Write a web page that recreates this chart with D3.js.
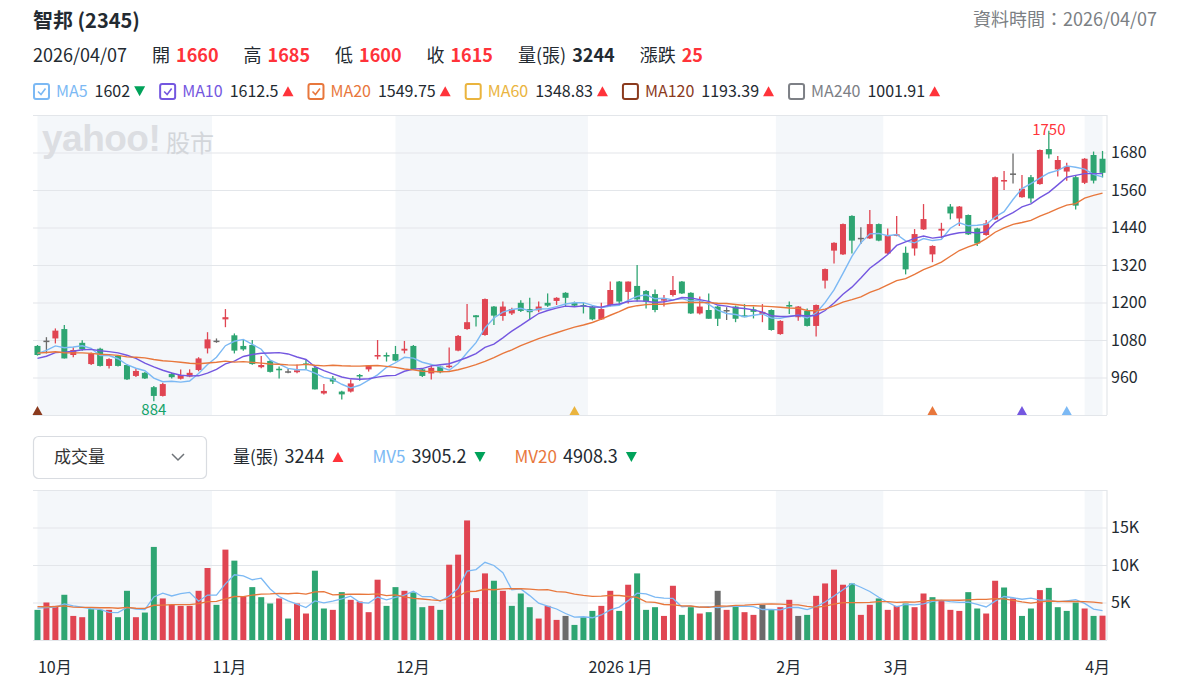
<!DOCTYPE html>
<html lang="zh-Hant">
<head>
<meta charset="utf-8">
<title>智邦 (2345)</title>
<script src="https://cdn.jsdelivr.net/npm/d3@7"></script>
<style>
  body { margin: 0; background: #fff; }
  svg { display: block; font-family: "Noto Sans CJK TC", "Noto Sans", sans-serif; }
</style>
</head>
<body>
<svg id="chart" width="1181" height="692"></svg>
<script>
// daily bars 2025/10/01 .. 2026/04/07
const opens = [1061,1078,1085,1115,1032,1071,1003,1052,997,1029,
  1000,965,975,929,901,971,956,963,984,1053,
  1078,1146,1095,1061,1064,993,1013,988,980,977,
  1005,991,909,957,915,915,968,986,1027,1032,
  1035,1046,1061,986,973,995,993,1046,1115,1159,
  1096,1187,1157,1165,1199,1179,1175,1199,1205,1231,
  1199,1192,1187,1146,1192,1267,1234,1253,1237,1227,
  1206,1224,1267,1231,1165,1176,1187,1176,1187,1159,
  1178,1163,1176,1099,1192,1153,1173,1125,1270,1366,
  1354,1477,1407,1405,1451,1357,1414,1359,1373,1434,
  1354,1430,1507,1469,1480,1437,1416,1466,1587,1613,
  1537,1601,1579,1691,1626,1619,1601,1583,1672,1660];
const highs = [1064,1089,1117,1128,1057,1079,1040,1055,1022,1032,
  1003,989,978,933,943,975,986,986,1025,1105,
  1085,1179,1101,1082,1080,1029,1016,995,988,1002,
  1018,994,939,965,918,954,971,1000,1080,1040,
  1061,1077,1064,989,999,998,1056,1096,1195,1160,
  1213,1189,1203,1183,1207,1215,1203,1229,1217,1233,
  1203,1199,1190,1199,1267,1269,1267,1320,1240,1242,
  1224,1285,1269,1233,1219,1229,1190,1185,1190,1195,
  1187,1195,1178,1143,1203,1189,1181,1194,1309,1393,
  1453,1479,1441,1496,1453,1437,1477,1379,1435,1515,
  1383,1455,1515,1509,1482,1439,1464,1603,1621,1677,
  1608,1608,1690,1750,1669,1647,1608,1662,1683,1685];
const lows = [1030,1037,1069,1021,1025,1046,1000,995,989,995,
  952,962,955,884,899,957,954,961,980,1037,
  1071,1121,1037,1046,1001,990,976,957,974,974,
  986,922,906,939,890,912,950,979,1018,1011,
  1012,1037,984,962,954,974,990,1044,1113,1123,
  1094,1128,1142,1160,1170,1146,1169,1186,1192,1187,
  1186,1165,1143,1144,1187,1192,1197,1203,1181,1169,
  1187,1219,1227,1163,1162,1148,1125,1144,1137,1153,
  1149,1137,1110,1097,1163,1142,1123,1091,1245,1325,
  1352,1357,1387,1403,1396,1355,1412,1290,1350,1432,
  1329,1405,1466,1445,1416,1381,1414,1464,1560,1581,
  1535,1519,1577,1661,1603,1590,1498,1579,1581,1600];
const closes = [1032,1078,1110,1021,1048,1050,1037,997,1019,997,
  954,981,957,901,939,961,968,975,1021,1082,
  1078,1153,1046,1050,1003,1000,978,984,980,983,
  1000,922,917,947,906,941,965,998,1032,1027,
  1014,1052,986,965,991,977,998,1093,1137,1153,
  1211,1158,1187,1179,1173,1169,1187,1190,1215,1215,
  1190,1187,1146,1179,1240,1203,1267,1210,1203,1176,
  1213,1240,1229,1165,1187,1148,1148,1176,1148,1153,
  1170,1170,1112,1141,1187,1187,1125,1192,1307,1391,
  1451,1398,1407,1451,1398,1414,1418,1306,1419,1467,
  1381,1436,1485,1507,1418,1389,1453,1601,1592,1613,
  1564,1533,1688,1674,1656,1635,1510,1660,1590,1615];
const volumes = [4018,5000,4550,6030,3210,3040,4110,4020,4020,3040,
  6560,3040,3660,12410,5540,4690,4550,4550,6560,9600,
  4690,12050,10580,5800,7050,5710,4870,5540,2860,4870,
  3530,9240,4200,4020,6380,5360,5130,3710,8040,4550,
  7050,6560,6340,4375,4550,4020,10040,11380,15940,5580,
  8880,7900,6560,4550,6200,4375,2860,4550,2680,3210,
  2010,3040,3880,4550,6560,3880,7370,8880,4020,4375,
  3210,7230,3350,4375,3530,3710,6560,4020,4550,3710,
  3350,4690,4020,4375,5360,3210,3350,5890,7540,9380,
  7370,7540,3350,4690,5540,4020,4550,4870,4375,6200,
  5710,5220,4020,3880,6380,4200,3530,7900,7000,5540,
  3210,4200,6650,6950,4375,3880,4990,4200,3210,3244];

// sessions before the window, estimated from where the average lines begin
const priorCloses = [1040,1065,1080,1060,1045,1070,1055,1040,1050,1045,
  1010,995,1005,1020,1000,1025,1040,1050,1035];
const priorVolumes = [5200,3800,4600,6100,3900,4200,5000,3600,4800,4100,
  5500,3700,4400,4900,3800,4600,4200,3900,4500];

const monthLabels = ["10月", "11月", "12月", "2026 1月", "2月", "3月", "4月"];
const monthStarts = [0, 19.5, 40, 61.5, 82.5, 94.5, 117];   // bar index where each month begins
const priceTicks = [960, 1080, 1200, 1320, 1440, 1560, 1680];
const priceGrid = [840, 960, 1080, 1200, 1320, 1440, 1560, 1680, 1800];
const volumeTicks = [5000, 10000, 15000];
const volumeGrid = [0, 5000, 10000, 15000, 20000];

const quoteDate = "2026/04/07";
const quoteLabels = ["開", "高", "低", "收", "量(張)", "漲跌"];
const quoteValues = ["1660", "1685", "1600", "1615", "3244", "25"];

const maNames = ["MA5", "MA10", "MA20", "MA60", "MA120", "MA240"];
const maLast = ["1602", "1612.5", "1549.75", "1348.83", "1193.39", "1001.91"];
const maTrend = ["down", "up", "up", "up", "up", "up"];
const maShown = [true, true, true, false, false, false];
const maPeriods = [5, 10, 20];

const volNames = ["量(張)", "MV5", "MV20"];
const volLast = ["3244", "3905.2", "4908.3"];
const volTrend = ["up", "down", "down"];

// bars where each average's window starts (small markers on the bottom edge)
const markerBars = [0, 60, 100, 110, 115];
const markerMa = [4, 3, 2, 1, 0];

// ---- styles ----
const RED = "#e04552", GREEN = "#2ea572", GRAY = "#6b6b6b";
const UP = "#ff333a", DOWN = "#00a25a";
const TEXT = "#232a31";
const maColors = ["#7cb9f4", "#7457e0", "#e8773c", "#eab43e", "#8b3a1d", "#7d8086"];
const mvColors = ["#7cb9f4", "#e8773c"];
const BAND = "#f4f7fa", GRID = "#e3e6ea";

const N = closes.length;
const plot = { left: 33, right: 1107 };
const pricePanel = { top: 115, bottom: 415 };
const volPanel = { top: 490, bottom: 640 };

const svg = d3.select("#chart");

const x = d3.scaleBand().domain(d3.range(N))
  .range([plot.left, plot.right]).paddingInner(0.33).paddingOuter(0.165);
const xi = d3.scaleLinear().domain([-0.5, N - 0.5]).range([plot.left, plot.right]);
const cx = i => x(i) + x.bandwidth() / 2;
const yP = d3.scaleLinear().domain([840, 1800]).range([pricePanel.bottom, pricePanel.top]);
const yV = d3.scaleLinear().domain([0, 20000]).range([volPanel.bottom, volPanel.top]);

const bars = d3.range(N).map(i => ({
  i, o: opens[i], h: highs[i], l: lows[i], c: closes[i], v: volumes[i],
  prev: i ? closes[i - 1] : priorCloses[priorCloses.length - 1]
}));

function movingAverage(values, prior, n) {
  const all = prior.concat(values);
  const off = prior.length;
  return values.map((_, i) => d3.mean(all.slice(off + i - n + 1, off + i + 1)));
}

const candleColor = d => d.c > d.o ? RED : d.c < d.o ? GREEN : GRAY;
const volumeColor = d => d.c > d.prev ? RED : d.c < d.prev ? GREEN : GRAY;

function tri(g, x0, yc, dir, color, w = 11, h = 10) {
  const p = dir === "up"
    ? `M${x0},${yc + h / 2}L${x0 + w / 2},${yc - h / 2}L${x0 + w},${yc + h / 2}Z`
    : `M${x0},${yc - h / 2}L${x0 + w / 2},${yc + h / 2}L${x0 + w},${yc - h / 2}Z`;
  g.append("path").attr("d", p).attr("fill", color);
}

// lays out text pieces left to right, measuring each one
function inline(g, x0, y, parts) {
  let at = x0;
  parts.forEach(p => {
    if (p.gap) { at += p.gap; return; }
    if (p.tri) { tri(g, at, y - p.size * 0.36, p.tri, p.tri === "up" ? UP : DOWN); at += 11; return; }
    const t = g.append("text").attr("x", at).attr("y", y)
      .attr("font-size", p.size).attr("fill", p.color || TEXT)
      .attr("font-weight", p.bold ? 700 : 400).text(p.text);
    at += t.node().getComputedTextLength();
  });
  return at;
}

// ---- header ----
const head = svg.append("g");
head.append("text").attr("x", 33).attr("y", 28).attr("font-size", 20)
  .attr("font-weight", 700).attr("fill", TEXT).text("智邦 (2345)");
head.append("text").attr("x", 1157).attr("y", 26).attr("font-size", 18)
  .attr("text-anchor", "end").attr("fill", "#7b7f84").text("資料時間：" + quoteDate);

const quoteParts = [{ text: quoteDate, size: 18 }];
quoteLabels.forEach((lab, k) => {
  quoteParts.push({ gap: 25 }, { text: lab, size: 18 }, { gap: 6 },
    { text: quoteValues[k], size: 18, bold: true, color: lab === "量(張)" ? TEXT : UP });
});
inline(head, 33, 62, quoteParts);

// MA legend with check boxes
let lx = 34;
maNames.forEach((name, k) => {
  const g = head.append("g");
  g.append("rect").attr("x", lx).attr("y", 84).attr("width", 15).attr("height", 15)
    .attr("rx", 2).attr("fill", "#fff").attr("stroke", maColors[k]).attr("stroke-width", 2);
  if (maShown[k]) {
    g.append("path").attr("d", `M${lx + 4},${91.5}L${lx + 7},${94.5}L${lx + 11.5},${88.5}`)
      .attr("fill", "none").attr("stroke", maColors[k]).attr("stroke-width", 1.6);
  }
  lx = inline(g, lx + 22, 97, [
    { text: name, size: 16, color: maColors[k] }, { gap: 7 },
    { text: maLast[k], size: 16 }, { gap: 4 }, { tri: maTrend[k], size: 16 }
  ]) + 15;
});

// ---- month shading ----
function bands(top, bottom) {
  const g = svg.append("g");
  monthStarts.forEach((s, k) => {
    if (k % 2) return;
    const end = k + 1 < monthStarts.length ? monthStarts[k + 1] : N - 1;
    g.append("rect").attr("x", xi(s)).attr("y", top)
      .attr("width", xi(end) - xi(s)).attr("height", bottom - top).attr("fill", BAND);
  });
}
bands(pricePanel.top, pricePanel.bottom);
bands(volPanel.top, volPanel.bottom);

// ---- grids and right axes ----
function grid(scale, values) {
  svg.append("g").attr("transform", `translate(${plot.right},0)`)
    .call(d3.axisRight(scale).tickValues(values).tickSize(-(plot.right - plot.left)).tickFormat(""))
    .call(g => g.select(".domain").remove())
    .call(g => g.selectAll("line").attr("stroke", GRID).attr("stroke-width", 1.2));
}
grid(yP, priceGrid);
grid(yV, volumeGrid);
[[pricePanel.top, pricePanel.bottom], [volPanel.top, volPanel.bottom]].forEach(([a, b]) => {
  svg.append("line").attr("x1", plot.right).attr("x2", plot.right).attr("y1", a).attr("y2", b)
    .attr("stroke", GRID).attr("stroke-width", 1.2);
});

function axisLabels(scale, values, fmt) {
  svg.append("g").attr("transform", `translate(${plot.right},0)`)
    .call(d3.axisRight(scale).tickValues(values).tickSize(0).tickPadding(4).tickFormat(fmt))
    .call(g => g.select(".domain").remove())
    .call(g => g.selectAll("text").attr("font-size", 16).attr("fill", TEXT)
      .attr("font-family", "'Noto Sans CJK TC', 'Noto Sans', sans-serif"));
}
axisLabels(yP, priceTicks, d3.format("d"));
axisLabels(yV, volumeTicks, d => d / 1000 + "K");

// watermark
const wm = svg.append("g").attr("fill", "#dcdee2");
wm.append("text").attr("x", 42).attr("y", 151).attr("font-size", 37).attr("font-weight", 700)
  .attr("font-family", "'Liberation Sans', Arial, sans-serif").attr("letter-spacing", -0.5).text("yahoo!");
wm.append("text").attr("x", 166).attr("y", 152).attr("font-size", 24).attr("font-weight", 400)
  .attr("fill", "#d3d6da").text("股市");

// ---- candles ----
const cg = svg.append("g");
cg.selectAll("line.wick").data(bars).join("line").attr("class", "wick")
  .attr("x1", d => cx(d.i)).attr("x2", d => cx(d.i))
  .attr("y1", d => yP(d.h)).attr("y2", d => yP(d.l))
  .attr("stroke", candleColor).attr("stroke-width", 1.3);
cg.selectAll("rect.body").data(bars).join("rect").attr("class", "body")
  .attr("x", d => x(d.i)).attr("width", x.bandwidth())
  .attr("y", d => yP(Math.max(d.o, d.c)))
  .attr("height", d => Math.max(1.5, Math.abs(yP(d.o) - yP(d.c))))
  .attr("fill", candleColor);

// moving averages on price
const maLine = d3.line().x((d, i) => cx(i)).y(d => yP(d));
maPeriods.forEach((n, k) => {
  svg.append("path").datum(movingAverage(closes, priorCloses, n))
    .attr("d", maLine).attr("fill", "none")
    .attr("stroke", maColors[k]).attr("stroke-width", 1.4);
});

// high / low labels
const hiBar = bars[d3.maxIndex(bars, d => d.h)];
const loBar = bars[d3.minIndex(bars, d => d.l)];
svg.append("text").attr("x", cx(hiBar.i)).attr("y", yP(hiBar.h) + 4).attr("text-anchor", "middle")
  .attr("font-size", 15).attr("fill", UP).text(hiBar.h);
svg.append("text").attr("x", cx(loBar.i)).attr("y", yP(loBar.l) + 14).attr("text-anchor", "middle")
  .attr("font-size", 15).attr("fill", "#14a36a").text(loBar.l);

// window-start markers
markerBars.forEach((b, k) => {
  tri(svg, cx(b) - 5, pricePanel.bottom - 4.5, "up", maColors[markerMa[k]], 10, 9);
});

// ---- volume panel ----
const vh = svg.append("g");
vh.append("rect").attr("x", 33.5).attr("y", 436.5).attr("width", 173).attr("height", 42)
  .attr("rx", 5).attr("fill", "#fff").attr("stroke", "#d9dce1").attr("stroke-width", 1.2);
vh.append("text").attr("x", 54).attr("y", 463).attr("font-size", 17).attr("fill", "#333").text("成交量");
vh.append("path").attr("d", "M172,454L178,460L184,454").attr("fill", "none")
  .attr("stroke", "#6e7378").attr("stroke-width", 1.5);

const volParts = [];
volNames.forEach((name, k) => {
  if (k) volParts.push({ gap: 29 });
  volParts.push({ text: name, size: 17, color: k ? mvColors[k - 1] : TEXT }, { gap: 6 },
    { text: volLast[k], size: 18 }, { gap: 8 }, { tri: volTrend[k], size: 17 });
});
inline(vh, 233, 463, volParts);

svg.append("g").selectAll("rect").data(bars).join("rect")
  .attr("x", d => x(d.i)).attr("width", x.bandwidth())
  .attr("y", d => yV(d.v)).attr("height", d => yV(0) - yV(d.v))
  .attr("fill", volumeColor);

const mvLine = d3.line().x((d, i) => cx(i)).y(d => yV(d));
[5, 20].forEach((n, k) => {
  svg.append("path").datum(movingAverage(volumes, priorVolumes, n))
    .attr("d", mvLine).attr("fill", "none")
    .attr("stroke", mvColors[k]).attr("stroke-width", 1.3);
});

// ---- month axis ----
svg.append("g").attr("transform", "translate(0,659)")
  .call(d3.axisBottom(xi).tickValues(monthStarts).tickSize(0).tickPadding(3)
    .tickFormat((d, i) => monthLabels[i]))
  .call(g => g.select(".domain").remove())
  .call(g => g.selectAll("text").attr("text-anchor", "start").attr("font-size", 16)
    .attr("fill", TEXT).attr("font-family", "'Noto Sans CJK TC', 'Noto Sans', sans-serif"));
</script>
</body>
</html>
